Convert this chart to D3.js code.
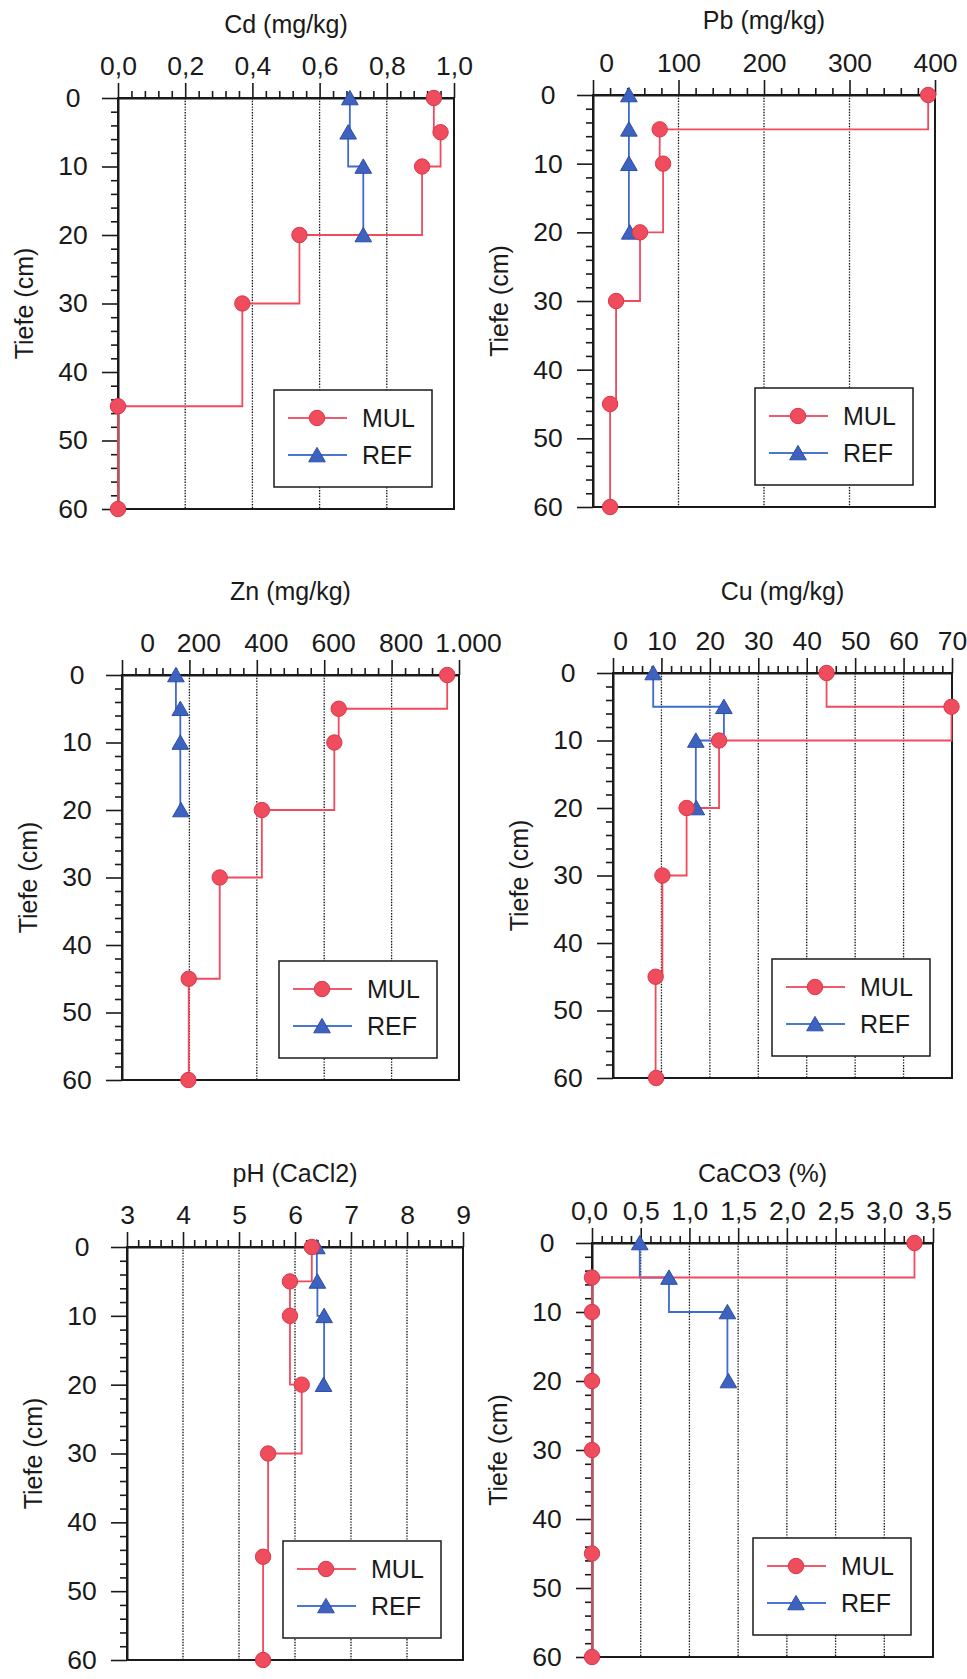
<!DOCTYPE html>
<html>
<head>
<meta charset="utf-8">
<script src="https://cdn.jsdelivr.net/npm/d3@7"></script>
<style>
  body { margin: 0; background: #fff; }
  svg { display: block; font-family: "Liberation Sans", Arial, sans-serif; }
</style>
</head>
<body>
<div id="chart"></div>
<script>
// sampled depths (cm)
const depthsMUL = [0, 5, 10, 20, 30, 45, 60];
const depthsREF = [0, 5, 10, 20];
const depthTicks = [0, 10, 20, 30, 40, 50, 60];

// values
const cdMUL = [0.94, 0.96, 0.905, 0.54, 0.37, 0.0, 0.0];
const cdREF = [0.69, 0.685, 0.73, 0.73];
const pbMUL = [392, 78, 82, 55, 27, 20, 20];
const pbREF = [42, 42, 42, 43];
const znMUL = [965, 643, 630, 415, 290, 198, 197];
const znREF = [160, 173, 173, 175];
const cuMUL = [44.1, 69.9, 21.9, 15.2, 10.2, 8.8, 8.9];
const cuREF = [8.3, 22.9, 17.1, 17.2];
const phMUL = [6.30, 5.91, 5.91, 6.12, 5.52, 5.43, 5.43];
const phREF = [6.39, 6.40, 6.52, 6.51];
const caco3MUL = [3.31, 0.0, 0.0, 0.0, 0.0, 0.0, 0.0];
const caco3REF = [0.49, 0.79, 1.39, 1.40];

// top axis ticks + labels
const cdTicks = [0, 0.2, 0.4, 0.6, 0.8, 1.0];
const cdLabels = ['0,0', '0,2', '0,4', '0,6', '0,8', '1,0'];
const pbTicks = [0, 100, 200, 300, 400];
const pbLabels = ['0', '100', '200', '300', '400'];
const znTicks = [0, 200, 400, 600, 800, 1000];
const znLabels = ['0', '200', '400', '600', '800', '1.000'];
const cuTicks = [0, 10, 20, 30, 40, 50, 60, 70];
const cuLabels = ['0', '10', '20', '30', '40', '50', '60', '70'];
const phTicks = [3, 4, 5, 6, 7, 8, 9];
const phLabels = ['3', '4', '5', '6', '7', '8', '9'];
const caco3Ticks = [0, 0.5, 1.0, 1.5, 2.0, 2.5, 3.0, 3.5];
const caco3Labels = ['0,0', '0,5', '1,0', '1,5', '2,0', '2,5', '3,0', '3,5'];

const titles = ['Cd (mg/kg)', 'Pb (mg/kg)', 'Zn (mg/kg)', 'Cu (mg/kg)', 'pH (CaCl2)', 'CaCO3 (%)'];
const seriesNames = ['MUL', 'REF'];

const panels = [
    { title: titles[0], mul: cdMUL, ref: cdREF, ticks: cdTicks, labels: cdLabels, minor: 0.04 },
    { title: titles[1], mul: pbMUL, ref: pbREF, ticks: pbTicks, labels: pbLabels, minor: 20 },
    { title: titles[2], mul: znMUL, ref: znREF, ticks: znTicks, labels: znLabels, minor: 40 },
    { title: titles[3], mul: cuMUL, ref: cuREF, ticks: cuTicks, labels: cuLabels, minor: 2 },
    { title: titles[4], mul: phMUL, ref: phREF, ticks: phTicks, labels: phLabels, minor: 0.2 },
    { title: titles[5], mul: caco3MUL, ref: caco3REF, ticks: caco3Ticks, labels: caco3Labels, minor: 0.1 }
];

// where each panel sits on the page (scan is slightly uneven)
const layout = [
    { x0: 118, x1: 454, y0: 98, y1: 509, titleY: 33, dx: 0, dx0: 0 },
    { x0: 593, x1: 935, y0: 95, y1: 507, titleY: 29, dx: 0, dx0: 13 },
    { x0: 122, x1: 459, y0: 675, y1: 1080, titleY: 600, dx: 9, dx0: 25 },
    { x0: 613, x1: 952, y0: 673, y1: 1078, titleY: 600, dx: 0, dx0: 7 },
    { x0: 127, x1: 463, y0: 1247, y1: 1660, titleY: 1182, dx: 0, dx0: 0 },
    { x0: 592, x1: 933, y0: 1243, y1: 1657, titleY: 1182, dx: 0, dx0: -3 }
];

const width = 967;
const height = 1679;
const ink = '#1a1a1a';
const redFill = '#ef4d5d';
const redStroke = '#d8384a';
const redLine = '#f04a5c';
const blueFill = '#3d62c0';
const blueStroke = '#2c4ea6';
const blueLine = '#3f6ad0';
const fontSize = 25;
const tickFontSize = 26.5;

const svg = d3.select('#chart')
    .append('svg')
    .attr('width', width)
    .attr('height', height);

svg.append('rect')
    .attr('width', width)
    .attr('height', height)
    .attr('fill', '#fff');

const triangle = d3.symbol().type(d3.symbolTriangle).size(120);

function drawPanel(p, L) {

    const w = L.x1 - L.x0;
    const h = L.y1 - L.y0;
    const g = svg.append('g').attr('transform', `translate(${L.x0},${L.y0})`);

    const x = d3.scaleLinear()
        .domain([p.ticks[0], p.ticks[p.ticks.length - 1]])
        .range([0, w]);
    const y = d3.scaleLinear()
        .domain([0, 60])
        .range([0, h]);

    // dotted grid at inner major ticks
    g.selectAll('.grid')
        .data(p.ticks.slice(1, -1))
        .enter()
        .append('line')
        .attr('class', 'grid')
        .attr('x1', d => x(d))
        .attr('x2', d => x(d))
        .attr('y1', 0)
        .attr('y2', h)
        .attr('stroke', '#111')
        .attr('stroke-width', 1.3)
        .attr('stroke-dasharray', '1.4,1.4');

    // frame
    g.append('rect')
        .attr('width', w)
        .attr('height', h)
        .attr('fill', 'none')
        .attr('stroke', ink)
        .attr('stroke-width', 2);

    // minor ticks
    const [dMin, dMax] = x.domain();
    const minorX = d3.range(dMin, dMax + p.minor / 2, p.minor)
        .filter(v => !p.ticks.some(t => Math.abs(t - v) < p.minor / 10));
    g.append('g')
        .call(d3.axisTop(x).tickValues(minorX).tickSize(7).tickSizeOuter(0).tickFormat(''))
        .call(a => a.select('.domain').remove());

    const minorY = d3.range(0, 61, 2).filter(v => v % 10 !== 0);
    g.append('g')
        .call(d3.axisLeft(y).tickValues(minorY).tickSize(7).tickSizeOuter(0).tickFormat(''))
        .call(a => a.select('.domain').remove());

    // major top axis
    const xAxis = g.append('g')
        .attr('class', 'x-axis')
        .call(d3.axisTop(x)
            .tickValues(p.ticks)
            .tickSize(15)
            .tickSizeOuter(0)
            .tickPadding(8)
            .tickFormat((d, i) => p.labels[i]));

    xAxis.selectAll('text')
        .attr('dx', (d, i) => i === 0 ? L.dx0 : L.dx);

    // major left axis
    const yAxis = g.append('g')
        .attr('class', 'y-axis')
        .call(d3.axisLeft(y)
            .tickValues(depthTicks)
            .tickSize(16)
            .tickSizeOuter(0)
            .tickFormat(d3.format('d')));

    yAxis.selectAll('text')
        .attr('x', -45)
        .attr('text-anchor', 'middle');

    g.selectAll('.x-axis, .y-axis')
        .attr('font-family', null)
        .attr('font-size', tickFontSize);
    g.selectAll('.tick text').attr('fill', ink);
    g.selectAll('.tick line').attr('stroke', ink).attr('stroke-width', 1.6);
    g.selectAll('.domain').attr('stroke', ink).attr('stroke-width', 2);

    // titles
    g.append('text')
        .attr('x', w / 2)
        .attr('y', L.titleY - L.y0)
        .attr('text-anchor', 'middle')
        .attr('font-size', fontSize)
        .attr('fill', ink)
        .text(p.title);

    g.append('text')
        .attr('transform', `translate(-94,${h / 2}) rotate(-90)`)
        .attr('dy', '0.35em')
        .attr('text-anchor', 'middle')
        .attr('font-size', fontSize)
        .attr('fill', ink)
        .text('Tiefe (cm)');

    // step profiles
    const line = d3.line()
        .x(d => x(d.v))
        .y(d => y(d.depth))
        .curve(d3.curveStepBefore);

    const mulData = p.mul.map((v, i) => ({ v: v, depth: depthsMUL[i] }));
    const refData = p.ref.map((v, i) => ({ v: v, depth: depthsREF[i] }));

    g.append('path')
        .datum(refData)
        .attr('d', line)
        .attr('fill', 'none')
        .attr('stroke', blueLine)
        .attr('stroke-width', 1.8);

    g.append('path')
        .datum(mulData)
        .attr('d', line)
        .attr('fill', 'none')
        .attr('stroke', redLine)
        .attr('stroke-width', 1.8);

    g.selectAll('.tri')
        .data(refData)
        .enter()
        .append('path')
        .attr('class', 'tri')
        .attr('d', triangle)
        .attr('transform', d => `translate(${x(d.v)},${y(d.depth) + 2})`)
        .attr('fill', blueFill)
        .attr('stroke', blueStroke)
        .attr('stroke-width', 1);

    g.selectAll('.dot')
        .data(mulData)
        .enter()
        .append('circle')
        .attr('class', 'dot')
        .attr('cx', d => x(d.v))
        .attr('cy', d => y(d.depth))
        .attr('r', 7.7)
        .attr('fill', redFill)
        .attr('stroke', redStroke)
        .attr('stroke-width', 1);

    // legend box
    const lw = 158, lh = 97;
    const legend = g.append('g')
        .attr('transform', `translate(${w - 22 - lw},${h - 22 - lh})`);

    legend.append('rect')
        .attr('width', lw)
        .attr('height', lh)
        .attr('fill', '#fff')
        .attr('stroke', ink)
        .attr('stroke-width', 1.5);

    const rows = legend.selectAll('.row')
        .data(seriesNames)
        .enter()
        .append('g')
        .attr('class', 'row')
        .attr('transform', (d, i) => `translate(0,${28 + i * 37})`);

    rows.append('line')
        .attr('x1', 14)
        .attr('x2', 73)
        .attr('stroke', (d, i) => i === 0 ? '#f05a6a' : '#4a78d0')
        .attr('stroke-width', 1.8);

    rows.filter((d, i) => i === 0)
        .append('circle')
        .attr('cx', 43)
        .attr('r', 7.7)
        .attr('fill', redFill)
        .attr('stroke', redStroke);

    rows.filter((d, i) => i === 1)
        .append('path')
        .attr('d', triangle)
        .attr('transform', 'translate(43,2)')
        .attr('fill', blueFill)
        .attr('stroke', blueStroke);

    rows.append('text')
        .attr('x', 88)
        .attr('dy', '0.36em')
        .attr('font-size', fontSize)
        .attr('fill', ink)
        .text(d => d);
}

panels.forEach((p, i) => drawPanel(p, layout[i]));
</script>
</body>
</html>
